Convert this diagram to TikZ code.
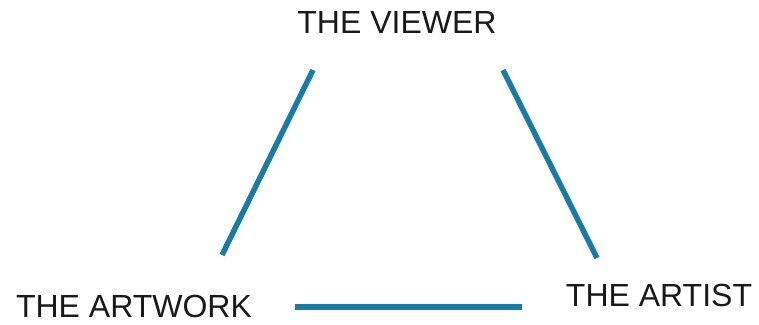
\documentclass[tikz,border=0pt]{standalone}
\usepackage{fontspec}
\setmainfont{Liberation Sans}
\definecolor{linkblue}{HTML}{1A7BA3}
\begin{document}
\begin{tikzpicture}[x=1pt,y=-1pt,
  lbl/.style={font=\fontsize{32}{36}\selectfont, text=black!90, inner sep=0pt, anchor=base},
  link/.style={draw=linkblue, line width=5.5pt}]
\useasboundingbox (0,0) rectangle (759,324);
\node[lbl] (viewer) at (397,33) {THE VIEWER};
\node[lbl] (artwork) at (134,317) {THE ARTWORK};
\node[lbl] (artist) at (659,306) {THE ARTIST};
\coordinate (l1) at (313,70);
\coordinate (l2) at (222,255);
\coordinate (r1) at (503,70);
\coordinate (r2) at (597,258);
\coordinate (b1) at (295,307);
\coordinate (b2) at (522,307);
\draw[link] (l1) -- (l2);
\draw[link] (r1) -- (r2);
\draw[link] (b1) -- (b2);
\end{tikzpicture}
\end{document}
